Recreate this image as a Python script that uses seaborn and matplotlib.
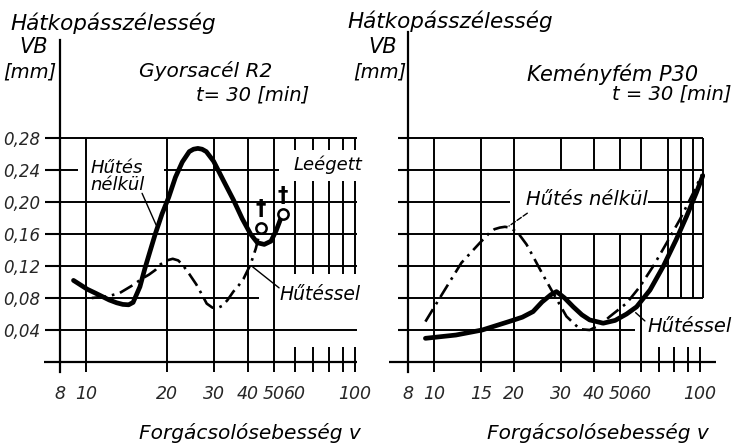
import matplotlib
matplotlib.use("Agg")
import matplotlib.pyplot as plt
import seaborn as sns
import numpy as np
from matplotlib.ticker import NullLocator

# ---------------- data ----------------
# Left panel: Gyorsacél R2, t = 30 min
gy_nelkul_v = [8.98, 10.1, 10.85, 12.2, 13.0, 13.7, 14.4, 14.96, 15.86, 16.57, 17.3, 18.07, 19.16,
               20.3, 21.5, 22.8, 24.2, 25.1, 26.05, 27.0, 28.0, 29.8, 32.4, 35.4, 38.1, 40.9,
               43.4, 46.0, 48.7, 50.9, 53.2, 54.0]
gy_nelkul_vb = [0.102, 0.091, 0.086, 0.0775, 0.074, 0.072, 0.0715, 0.0745, 0.094, 0.1175, 0.1385,
                0.1596, 0.185, 0.206, 0.231, 0.250, 0.263, 0.266, 0.267, 0.266, 0.263, 0.251,
                0.227, 0.202, 0.179, 0.160, 0.149, 0.147, 0.151, 0.164, 0.181, 0.185]
gy_hutessel_v = [10.5, 12.0, 13.3, 15.0, 16.1, 17.1, 18.1, 18.9, 20.0, 21.0, 22.0, 22.8, 24.2,
                 25.7, 27.0, 28.1, 29.5, 30.6, 32.0, 33.5, 35.3, 37.0, 38.5, 40.9, 42.8, 44.7]
gy_hutessel_vb = [0.080, 0.082, 0.086, 0.0965, 0.104, 0.109, 0.115, 0.122, 0.127, 0.129, 0.127,
                  0.122, 0.110, 0.097, 0.084, 0.073, 0.068, 0.067, 0.070, 0.077, 0.088, 0.096,
                  0.104, 0.122, 0.142, 0.168]
gy_leegett_v = [44.7, 54.0]
gy_leegett_vb = [0.168, 0.185]

# Right panel: Keményfém P30, t = 30 min
km_nelkul_v = [9.3, 10.8, 12.7, 14.9, 16.2, 16.9, 17.7, 18.5, 19.3, 20.7, 22.3, 23.6, 25.7, 28.1,
               31.5, 35.4, 38.5, 42.0, 45.9, 53.0, 59.4, 66.8, 75.0, 84.0, 94.5, 101.5]
km_nelkul_vb = [0.0505, 0.086, 0.124, 0.149, 0.1615, 0.166, 0.168, 0.169, 0.168, 0.1615, 0.147,
                0.132, 0.109, 0.086, 0.057, 0.041, 0.040, 0.046, 0.057, 0.0735, 0.094, 0.12,
                0.149, 0.178, 0.212, 0.234]
km_hutessel_v = [9.3, 12.1, 15.2, 19.1, 21.5, 23.6, 25.5, 27.5, 28.9, 31.0, 33.4, 36.0, 38.5,
                 43.3, 48.0, 53.0, 57.8, 64.9, 72.9, 81.4, 89.0, 97.0, 102.5]
km_hutessel_vb = [0.0296, 0.0337, 0.040, 0.0504, 0.056, 0.063, 0.075, 0.084, 0.088, 0.080, 0.069,
                  0.059, 0.0526, 0.0485, 0.052, 0.060, 0.069, 0.090, 0.12, 0.153, 0.182, 0.212,
                  0.233]

# ticks
y_ticks = [0.04, 0.08, 0.12, 0.16, 0.20, 0.24, 0.28]
y_ticklabels = ["0,04", "0,08", "0,12", "0,16", "0,20", "0,24", "0,28"]
left_xticks = [8, 10, 20, 30, 40, 50, 60, 100]
left_xticklabels = ["8", "10", "20", "30", "40", "50", "60", "100"]
right_xticks = [8, 10, 15, 20, 30, 40, 50, 60, 100]
right_xticklabels = ["8", "10", "15", "20", "30", "40", "50", "60", "100"]

# hand-drawn grid of the original
L_v_full = [10, 20, 30, 40, 50]
L_v_upper = [60, 70, 80, 90, 100]
L_v_stub = [60, 70, 80, 90, 100]
L_h_segments = [(0.28, 8, 102), (0.24, 8, 9.3), (0.24, 19.5, 52), (0.20, 8, 102),
                (0.16, 8, 102), (0.12, 8, 102), (0.08, 8, 44), (0.04, 8, 102)]
R_v_full = [10, 15, 20]
R_v_split = [30, 40, 50, 60]
R_v_upper = [75.5, 85, 94.4, 102.6]
R_v_stub = [70, 80, 90, 100]
R_h_segments = [(0.28, 8, 102.6), (0.24, 8, 102.6), (0.20, 8, 19.3), (0.20, 64, 102.6),
                (0.16, 8, 102.6), (0.12, 8, 102.6), (0.08, 8, 102.6), (0.04, 8, 57)]

# ---------------- style ----------------
sns.set_theme(style="white")
plt.rcParams['font.family'] = ['DejaVu Sans']
plt.rcParams['font.style'] = 'italic'
plt.rcParams['text.color'] = 'black'
plt.rcParams['lines.solid_joinstyle'] = 'round'
plt.rcParams['lines.solid_capstyle'] = 'round'
plt.rcParams['lines.dash_joinstyle'] = 'round'

W, H = 733, 448
fig = plt.figure(figsize=(W / 100, H / 100), dpi=100)
fig.patch.set_facecolor('white')


def add_axes_px(x0, x1, ytop, ybot):
    return fig.add_axes([x0 / W, 1 - ybot / H, (x1 - x0) / W, (ybot - ytop) / H])


def ftext(x, y, s, **kw):
    fig.text(x / W, 1 - y / H, s, **kw)


YB = -0.013
axL = add_axes_px(60, 60 + 268.9 * np.log10(102 / 8), 40, 372.4)
axR = add_axes_px(408, 408 + 266.2 * np.log10(104 / 8), 32, 372.4)
axL.set_xlim(8, 102)
axR.set_xlim(8, 104)
axL.set_ylim(YB, 0.4025)
axR.set_ylim(YB, 0.4125)

GLW = 1.4
SOLID_LW = 3.4
DD_LW = 1.9
DD = (0, (5.5, 2.2, 1, 2.2))

for ax in (axL, axR):
    ax.set_facecolor('white')
    ax.set_xscale('log')
    for s in ('top', 'right', 'bottom'):
        ax.spines[s].set_visible(False)
    ax.spines['left'].set_visible(True)
    ax.spines['left'].set_color('black')
    ax.spines['left'].set_linewidth(1.6)
    ax.xaxis.set_minor_locator(NullLocator())
    ax.yaxis.set_minor_locator(NullLocator())
    ax.set_yticks(y_ticks)
    ax.tick_params(axis='y', left=True, direction='out', width=1.5, color='black')
    ax.tick_params(axis='x', bottom=True, length=0, pad=9, labelsize=12.5)

axL.set_yticklabels(y_ticklabels, fontsize=12, style='italic')
axL.tick_params(axis='y', length=11, pad=3)
axR.set_yticklabels([""] * len(y_ticks))
axR.tick_params(axis='y', length=7)

axL.set_xticks(left_xticks)
axL.set_xticklabels(left_xticklabels, style='italic')
axR.set_xticks(right_xticks)
axR.set_xticklabels(right_xticklabels, style='italic')

# grids
for x in L_v_full:
    axL.vlines(x, YB, 0.28, color='black', lw=GLW)
for x in L_v_upper:
    axL.vlines(x, 0.11, 0.28, color='black', lw=GLW)
for x in L_v_stub:
    axL.vlines(x, YB, 0.019, color='black', lw=GLW)
for (y, a, b) in L_h_segments:
    axL.hlines(y, a, b, color='black', lw=GLW)
axL.hlines(0, 7.0, 102, color='black', lw=1.6, clip_on=False)

for x in R_v_full:
    axR.vlines(x, YB, 0.28, color='black', lw=GLW)
for x in R_v_split:
    axR.vlines(x, YB, 0.16, color='black', lw=GLW)
    axR.vlines(x, 0.24, 0.28, color='black', lw=GLW)
for x in R_v_upper:
    axR.vlines(x, 0.08, 0.28, color='black', lw=GLW)
for x in R_v_stub:
    axR.vlines(x, YB, 0.019, color='black', lw=GLW)
for (y, a, b) in R_h_segments:
    axR.hlines(y, a, b, color='black', lw=GLW)
axR.hlines(0, 6.8, 115, color='black', lw=1.6, clip_on=False)

# curves
sns.lineplot(x=gy_nelkul_v, y=gy_nelkul_vb, ax=axL, color='black', linewidth=SOLID_LW,
             sort=False, estimator=None, zorder=5)
sns.lineplot(x=gy_hutessel_v, y=gy_hutessel_vb, ax=axL, color='black', linewidth=DD_LW,
             linestyle=DD, sort=False, estimator=None, zorder=5)
sns.scatterplot(x=gy_leegett_v, y=gy_leegett_vb, ax=axL, s=55, marker='o',
                facecolor='white', edgecolor='black', linewidth=1.8, zorder=6)
for v, vb in zip(gy_leegett_v, gy_leegett_vb):
    axL.text(v, vb + 0.023, "\u2020", ha='center', va='center', fontsize=15,
             fontweight='bold', style='normal', zorder=7)

sns.lineplot(x=km_nelkul_v, y=km_nelkul_vb, ax=axR, color='black', linewidth=DD_LW,
             linestyle=DD, sort=False, estimator=None, zorder=5)
sns.lineplot(x=km_hutessel_v, y=km_hutessel_vb, ax=axR, color='black', linewidth=SOLID_LW,
             sort=False, estimator=None, zorder=5)

for ax in (axL, axR):
    ax.set_xlabel("")
    ax.set_ylabel("")
    if ax.get_legend():
        ax.get_legend().remove()

# in-plot labels
axL.text(10.35, 0.232, "Hűtés\nnélkül", ha='left', va='center', fontsize=13,
         linespacing=0.95, zorder=8)
axL.annotate("", xy=(18.4, 0.168), xytext=(16.0, 0.214),
             arrowprops=dict(arrowstyle='-', color='black', lw=1.0))
axL.text(79, 0.246, "Leégett", ha='center', va='center', fontsize=13, zorder=8,
         bbox=dict(boxstyle='square,pad=0.35', fc='white', ec='none'))
axL.text(74, 0.084, "Hűtéssel", ha='center', va='center', fontsize=13.5, zorder=8)
axL.annotate("", xy=(40.9, 0.121), xytext=(53.2, 0.0905),
             arrowprops=dict(arrowstyle='-', color='black', lw=1.0))

axR.text(37.6, 0.203, "Hűtés nélkül", ha='center', va='center', fontsize=14, zorder=8)
axR.annotate("", xy=(18.8, 0.168), xytext=(22.9, 0.188),
             arrowprops=dict(arrowstyle='-', color='black', lw=1.0, linestyle='--'))
axR.text(63.5, 0.045, "Hűtéssel", ha='left', va='center', fontsize=14, zorder=8,
         clip_on=False)
axR.annotate("", xy=(56.3, 0.064), xytext=(63.2, 0.049),
             arrowprops=dict(arrowstyle='-', color='black', lw=1.0))

# titles / axis labels
ftext(10, 23, "Hátkopásszélesség", ha='left', va='center', fontsize=15.5)
ftext(34, 47, "VB", ha='center', va='center', fontsize=15)
ftext(30, 72, "[mm]", ha='center', va='center', fontsize=14)
ftext(206, 71, "Gyorsacél R2", ha='center', va='center', fontsize=14.5)
ftext(253, 95, "t= 30 [min]", ha='center', va='center', fontsize=14)
ftext(250, 433, "Forgácsolósebesség v", ha='center', va='center', fontsize=14.5)

ftext(347, 21, "Hátkopásszélesség", ha='left', va='center', fontsize=15.5)
ftext(383, 47, "VB", ha='center', va='center', fontsize=15)
ftext(380, 72, "[mm]", ha='center', va='center', fontsize=14)
ftext(613, 74, "Keményfém P30", ha='center', va='center', fontsize=15)
ftext(731, 94, "t = 30 [min]", ha='right', va='center', fontsize=14)
ftext(598, 433, "Forgácsolósebesség v", ha='center', va='center', fontsize=14.5)

fig.savefig("out.png", dpi=100, facecolor='white')
